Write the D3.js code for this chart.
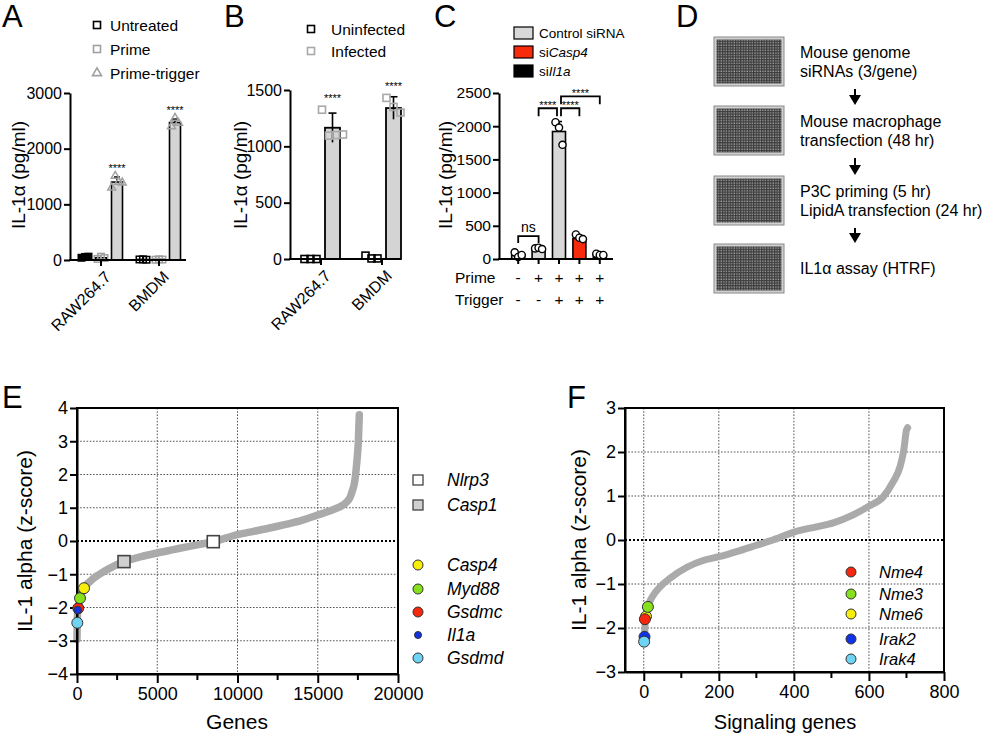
<!DOCTYPE html>
<html><head><meta charset="utf-8">
<script src="https://cdn.jsdelivr.net/npm/d3@7"></script>
<style>body{margin:0;background:#fff} svg{display:block} text{font-family:"Liberation Sans",Arial,sans-serif}</style>
</head><body><svg id="c" width="990" height="738"></svg>
<script>
// ---------------- DATA ----------------
const aGroups = ["RAW264.7", "BMDM"];
const aSeries = ["Untreated", "Prime", "Prime-trigger"];
const aMeans = [[50, 40, 1400], [10, 10, 2470]];
const aSD = [[10, 20, 90], [5, 5, 60]];
const aPoints = [[[40, 55, 60], [20, 60, 35], [1300, 1510, 1400, 1390]], [[10, 12, 5], [5, 12, 8], [2400, 2550, 2460]]];
const aTicks = [0, 1000, 2000, 3000];

const bGroups = ["RAW264.7", "BMDM"];
const bSeries = ["Uninfected", "Infected"];
const bMeans = [[2, 1165], [15, 1340]];
const bSD = [[2, 130], [15, 100]];
const bPoints = [[[0, 0, 0], [1325, 1095, 1100, 1105]], [[30, 5, 5], [1430, 1350, 1300]]];
const bTicks = [0, 500, 1000, 1500];

const cConditions = ["c1", "c2", "c3", "c4", "c5"];
const cSeries = ["Control siRNA", "siCasp4", "siIl1a"];
const cSeriesOf = [0, 0, 0, 1, 2];
const cMeans = [60, 155, 1920, 310, 60];
const cSD = [35, 10, 150, 30, 15];
const cPoints = [[100, 30, 60], [160, 170, 150], [2060, 1980, 1720], [370, 320, 300], [80, 60, 60]];
const cPrime = ["-", "+", "+", "+", "+"];
const cTrigger = ["-", "-", "+", "+", "+"];
const cTicks = [0, 500, 1000, 1500, 2000, 2500];
const cBrackets = [
  {from: 0, to: 1, level: 346, label: "ns"},
  {from: 1, to: 2, level: 2270, label: "****"},
  {from: 2, to: 3, level: 2270, label: "****"},
  {from: 2, to: 4, level: 2450, label: "****"}
];

const dSteps = [["Mouse genome", "siRNAs (3/gene)"], ["Mouse macrophage", "transfection (48 hr)"], ["P3C priming (5 hr)", "LipidA transfection (24 hr)"], ["IL1α assay (HTRF)"]];

const eCurve = [[0,-2.95],[10,-2.6],[20,-2.4],[40,-2.12],[80,-2.0],[190,-1.72],[440,-1.42],[800,-1.22],[1400,-1.0],[2000,-0.83],[2930,-0.62],[4000,-0.47],[5000,-0.36],[6000,-0.26],[7000,-0.16],[8500,-0.02],[10000,0.19],[11000,0.29],[12000,0.39],[13000,0.5],[14000,0.62],[15000,0.78],[16000,0.95],[16500,1.06],[16800,1.17],[17000,1.3],[17150,1.5],[17300,1.78],[17420,2.3],[17530,3.0],[17590,3.8]];
const eXTicks = [0, 5000, 10000, 15000, 20000];
const eXMinor = [2500, 7500, 12500, 17500];
const eYTicks = [-4, -3, -2, -1, 0, 1, 2, 3, 4];
const eHighlights = [
  {name: "Nlrp3", x: 8490, z: -0.02, shape: "square", fill: "#ffffff"},
  {name: "Casp1", x: 2930, z: -0.62, shape: "square", fill: "#d0d0d0"},
  {name: "Casp4", x: 436, z: -1.42, shape: "circle", fill: "#f7ef0a", r: 5.5},
  {name: "Myd88", x: 187, z: -1.72, shape: "circle", fill: "#86e01b", r: 5.5},
  {name: "Gsdmc", x: 80, z: -2.02, shape: "circle", fill: "#f4270f", r: 5.5},
  {name: "Il1a", x: 40, z: -2.08, shape: "circle", fill: "#1232e6", r: 3.8},
  {name: "Gsdmd", x: 20, z: -2.46, shape: "circle", fill: "#6fd4f4", r: 5.5}
];

const fCurve = [[0,-2.32],[2,-2.2],[4,-1.85],[7,-1.72],[10,-1.55],[15,-1.42],[25,-1.26],[44,-1.06],[70,-0.87],[115,-0.62],[160,-0.46],[200,-0.38],[256,-0.24],[300,-0.12],[344,0],[400,0.18],[460,0.3],[505,0.39],[558,0.57],[600,0.77],[638,0.98],[665,1.33],[683,1.67],[693,2.05],[700,2.5],[703,2.55]];
const fXTicks = [0, 200, 400, 600, 800];
const fXMinor = [100, 300, 500, 700];
const fYTicks = [-3, -2, -1, 0, 1, 2, 3];
const fHighlights = [
  {name: "Nme6", x: 6, z: -1.74, fill: "#f7ef0a"},
  {name: "Nme3", x: 11, z: -1.52, fill: "#86e01b"},
  {name: "Nme4", x: 3, z: -1.80, fill: "#f4270f"},
  {name: "Irak2", x: 2, z: -2.2, fill: "#1232e6"},
  {name: "Irak4", x: 1, z: -2.31, fill: "#6fd4f4"}
];
const fLegendOrder = ["Nme4", "Nme3", "Nme6", "Irak2", "Irak4"];

// ---------------- HELPERS ----------------
const svg = d3.select("#c");
const FONT = '"Liberation Sans", Arial, sans-serif';

function letter(t, x, y) {
  svg.append("text").attr("x", x).attr("y", y).attr("font-size", 31).text(t);
}
function yAxis(scale, x, ticks, fs, size = 6) {
  const g = svg.append("g").attr("transform", `translate(${x},0)`)
    .call(d3.axisLeft(scale).tickValues(ticks).tickSize(size).tickSizeOuter(0).tickPadding(2).tickFormat(d3.format("d")));
  g.attr("font-family", FONT).attr("font-size", fs);
  g.selectAll("path,line").attr("stroke", "#000").attr("stroke-width", 2);
  g.selectAll("text").attr("fill", "#000");
  return g;
}
function ylabel(t, x, y, fs) {
  svg.append("text").attr("transform", `translate(${x},${y}) rotate(-90)`).attr("text-anchor", "middle")
    .attr("dominant-baseline", "central").attr("font-size", fs).text(t);
}
function marker(g, shape, x, y, s, stroke, fill, sw = 1.6) {
  if (shape === "square") {
    g.append("rect").attr("x", x - s / 2).attr("y", y - s / 2).attr("width", s).attr("height", s)
      .attr("fill", fill).attr("stroke", stroke).attr("stroke-width", sw);
  } else if (shape === "triangle") {
    g.append("path").attr("d", d3.symbol(d3.symbolTriangle, s * s * 0.55)()).attr("transform", `translate(${x},${y})`)
      .attr("fill", fill).attr("stroke", stroke).attr("stroke-width", sw);
  } else {
    g.append("circle").attr("cx", x).attr("cy", y).attr("r", s).attr("fill", fill).attr("stroke", stroke).attr("stroke-width", sw);
  }
}
function errbar(g, x, y1, y2, cap, sw = 1.6) {
  g.append("line").attr("x1", x).attr("x2", x).attr("y1", y1).attr("y2", y2).attr("stroke", "#000").attr("stroke-width", sw);
  g.append("line").attr("x1", x - cap).attr("x2", x + cap).attr("y1", y1).attr("y2", y1).attr("stroke", "#000").attr("stroke-width", sw);
}
function stars(x, y) {
  svg.append("text").attr("x", x).attr("y", y).attr("text-anchor", "middle").attr("font-size", 11).text("****");
}

// ---------------- PANEL A ----------------
letter("A", 2, 27);
{
  const y = d3.scaleLinear().domain([0, 3000]).range([260, 93]);
  const x = d3.scaleBand().domain(aGroups).range([72, 188]);
  const xs = d3.scaleBand().domain(aSeries).range([-24, 24]);
  const shapes = ["square", "square", "triangle"];
  const strokes = ["#000", "#a0a0a0", "#a0a0a0"];
  const g = svg.append("g");
  aGroups.forEach((grp, gi) => {
    aSeries.forEach((s, si) => {
      const cx = x(grp) + x.bandwidth() / 2 + xs(s) + xs.bandwidth() / 2;
      const w = 11;
      g.append("rect").attr("x", cx - w / 2).attr("y", y(aMeans[gi][si])).attr("width", w)
        .attr("height", y(0) - y(aMeans[gi][si]))
        .attr("fill", si === 2 ? "#d4d4d4" : (si === 0 && gi === 0 ? "#000" : "#fff")).attr("stroke", "#000").attr("stroke-width", 1.6);
      if (si === 2) errbar(g, cx, y(aMeans[gi][si] + aSD[gi][si]), y(aMeans[gi][si]), 3);
      const pts = aPoints[gi][si];
      pts.forEach((v, k) => {
        const dx = (k - (pts.length - 1) / 2) * 3.5;
        marker(g, shapes[si], cx + dx, y(v), si === 2 ? 7 : 6.5, strokes[si], si === 0 && gi === 0 ? "#000" : "none", 1.5);
      });
      if (si === 2) stars(cx, y(d3.max(pts)) - 4);
    });
  });
  yAxis(y, 70, aTicks, 16);
  svg.append("line").attr("x1", 69).attr("x2", 186).attr("y1", 260).attr("y2", 260).attr("stroke", "#000").attr("stroke-width", 2);
  aGroups.forEach(grp => {
    const cx = x(grp) + x.bandwidth() / 2;
    svg.append("line").attr("x1", cx).attr("x2", cx).attr("y1", 260).attr("y2", 266).attr("stroke", "#000").attr("stroke-width", 2);
    svg.append("text").attr("transform", `translate(${cx + 3},${270}) rotate(-45)`).attr("text-anchor", "end")
      .attr("dominant-baseline", "hanging").attr("font-size", 16).text(grp);
  });
  ylabel("IL-1α (pg/ml)", 18, 175, 19);
  aSeries.forEach((s, i) => {
    const ly = 25 + i * 24;
    marker(svg, shapes[i], 97, ly, i === 2 ? 8 : 7, strokes[i], "none", 1.6);
    svg.append("text").attr("x", 110).attr("y", ly).attr("dominant-baseline", "central").attr("font-size", 15.5).text(s);
  });
}

// ---------------- PANEL B ----------------
letter("B", 224, 27);
{
  const y = d3.scaleLinear().domain([0, 1500]).range([259, 90]);
  const x = d3.scaleBand().domain(bGroups).range([290.5, 412.5]);
  const xs = d3.scaleBand().domain(bSeries).range([-23, 23]);
  const g = svg.append("g");
  bGroups.forEach((grp, gi) => {
    bSeries.forEach((s, si) => {
      const cx = x(grp) + x.bandwidth() / 2 + xs(s) + xs.bandwidth() / 2 + (si === 0 ? 1 : 0);
      const w = 15;
      if (si === 1) {
        g.append("rect").attr("x", cx - w / 2).attr("y", y(bMeans[gi][si])).attr("width", w)
          .attr("height", y(0) - y(bMeans[gi][si])).attr("fill", "#d4d4d4").attr("stroke", "#000").attr("stroke-width", 1.8);
        errbar(g, cx, y(bMeans[gi][si] + bSD[gi][si]), y(bMeans[gi][si] - bSD[gi][si]), 4);
      }
      const pts = bPoints[gi][si];
      pts.forEach((v, k) => {
        const dx = (k - (pts.length - 1) / 2) * (si === 0 ? 6 : 7);
        marker(g, "square", cx + dx, y(v), 7, si === 0 ? "#000" : "#a8a8a8", "none", 1.6);
      });
      if (si === 1) stars(cx, y(d3.max(pts)) - 8);
    });
  });
  yAxis(y, 290, bTicks, 16);
  svg.append("line").attr("x1", 289).attr("x2", 401).attr("y1", 259).attr("y2", 259).attr("stroke", "#000").attr("stroke-width", 2);
  bGroups.forEach(grp => {
    const cx = x(grp) + x.bandwidth() / 2;
    svg.append("line").attr("x1", cx).attr("x2", cx).attr("y1", 259).attr("y2", 265).attr("stroke", "#000").attr("stroke-width", 2);
    svg.append("text").attr("transform", `translate(${cx + 3},${269}) rotate(-45)`).attr("text-anchor", "end")
      .attr("dominant-baseline", "hanging").attr("font-size", 16).text(grp);
  });
  ylabel("IL-1α (pg/ml)", 240, 175, 19);
  bSeries.forEach((s, i) => {
    const ly = 29 + i * 22;
    marker(svg, "square", 311, ly, 7, i === 0 ? "#000" : "#a8a8a8", "none", 1.6);
    svg.append("text").attr("x", 331).attr("y", ly).attr("dominant-baseline", "central").attr("font-size", 15.5).text(s);
  });
}

// ---------------- PANEL C ----------------
letter("C", 434, 27);
{
  const y = d3.scaleLinear().domain([0, 2500]).range([259, 93]);
  const x = d3.scaleBand().domain(cConditions).range([508, 610]);
  const cx = i => x(cConditions[i]) + x.bandwidth() / 2;
  const colors = ["#d8d8d8", "#f82a0c", "#000"];
  const g = svg.append("g");
  cConditions.forEach((c, i) => {
    const w = 13;
    const col = colors[cSeriesOf[i]];
    g.append("rect").attr("x", cx(i) - w / 2).attr("y", y(cMeans[i])).attr("width", w).attr("height", y(0) - y(cMeans[i]))
      .attr("fill", col).attr("stroke", "#000").attr("stroke-width", 1.6);
    errbar(g, cx(i), y(cMeans[i] + cSD[i]), y(cMeans[i]), 3);
    const pts = cPoints[i];
    pts.forEach((v, k) => {
      const dx = (k - 1) * 3.5;
      marker(g, "circle", cx(i) + dx, y(v), 3.6, "#000", "#fff", 1.4);
    });
  });
  yAxis(y, 499, cTicks, 15.5);
  svg.append("line").attr("x1", 498).attr("x2", 613).attr("y1", 259).attr("y2", 259).attr("stroke", "#000").attr("stroke-width", 2);
  cConditions.forEach((c, i) => {
    svg.append("line").attr("x1", cx(i)).attr("x2", cx(i)).attr("y1", 259).attr("y2", 264).attr("stroke", "#000").attr("stroke-width", 2);
    svg.append("text").attr("x", cx(i)).attr("y", 277).attr("text-anchor", "middle").attr("dominant-baseline", "central").attr("font-size", 15.5).text(cPrime[i]);
    svg.append("text").attr("x", cx(i)).attr("y", 299).attr("text-anchor", "middle").attr("dominant-baseline", "central").attr("font-size", 15.5).text(cTrigger[i]);
  });
  svg.append("text").attr("x", 455).attr("y", 277).attr("dominant-baseline", "central").attr("font-size", 15.5).text("Prime");
  svg.append("text").attr("x", 455).attr("y", 299).attr("dominant-baseline", "central").attr("font-size", 15.5).text("Trigger");
  ylabel("IL-1α (pg/ml)", 445, 175, 19);
  cBrackets.forEach(b => {
    const x1 = cx(b.from) + (b.from === 2 ? 2 : 0), x2 = cx(b.to) - (b.to === 2 ? 2 : 0);
    const yt = y(b.level), yb = yt + (b.label === "ns" ? 7 : 8);
    svg.append("path").attr("d", `M${x1},${yb}V${yt}H${x2}V${yb}`).attr("fill", "none").attr("stroke", "#000").attr("stroke-width", 1.8);
    if (b.label === "ns") {
      svg.append("text").attr("x", (x1 + x2) / 2).attr("y", yt - 4).attr("text-anchor", "middle").attr("font-size", 14).text("ns");
    } else {
      stars((x1 + x2) / 2, yt + 1);
    }
  });
  cSeries.forEach((s, i) => {
    const ly = 33 + i * 19;
    svg.append("rect").attr("x", 514).attr("y", ly - 6).attr("width", 19).attr("height", 12).attr("fill", colors[i]).attr("stroke", "#000").attr("stroke-width", 1.2);
    const t = svg.append("text").attr("x", 539).attr("y", ly).attr("dominant-baseline", "central").attr("font-size", 13.5);
    if (i === 0) t.text(s);
    else { t.append("tspan").text("si"); t.append("tspan").attr("font-style", "italic").text(s.slice(2)); }
  });
}

// ---------------- PANEL D ----------------
letter("D", 676, 27);
{
  const defs = svg.append("defs");
  const pat = defs.append("pattern").attr("id", "wells").attr("patternUnits", "userSpaceOnUse").attr("width", 2.6).attr("height", 2.6);
  pat.append("rect").attr("width", 2.6).attr("height", 2.6).attr("fill", "#3c3c3c");
  pat.append("rect").attr("x", 0.4).attr("y", 0.4).attr("width", 1.3).attr("height", 1.3).attr("fill", "#a8a8a8");
  const ys = [37, 106, 176, 244];
  dSteps.forEach((lines, i) => {
    svg.append("rect").attr("x", 714).attr("y", ys[i]).attr("width", 70).attr("height", 49).attr("fill", "#d0d0d0").attr("stroke", "#8a8a8a").attr("stroke-width", 1);
    svg.append("rect").attr("x", 716.5).attr("y", ys[i] + 2.5).attr("width", 65).attr("height", 44).attr("fill", "url(#wells)");
    const cy = ys[i] + 24.5;
    lines.forEach((l, k) => {
      const yy = lines.length === 1 ? cy : cy - 9.5 + k * 19.5;
      svg.append("text").attr("x", 800).attr("y", yy).attr("dominant-baseline", "central").attr("font-size", 16).text(l);
    });
    if (i < 3) {
      const y1 = ys[i] + 52, y2 = ys[i + 1] - 1;
      svg.append("line").attr("x1", 855).attr("x2", 855).attr("y1", y1).attr("y2", y2 - 8).attr("stroke", "#000").attr("stroke-width", 2);
      svg.append("path").attr("d", `M849,${y2 - 10}L861,${y2 - 10}L855,${y2}Z`).attr("fill", "#000");
    }
  });
}

// ---------------- PANEL E ----------------
letter("E", 2, 408);
{
  const x = d3.scaleLinear().domain([0, 20000]).range([77, 398]);
  const y = d3.scaleLinear().domain([-4, 4]).range([674, 408]);
  const g = svg.append("g");
  eXTicks.filter(v => v > 0 && v < 20000).forEach(v => g.append("line").attr("x1", x(v)).attr("x2", x(v)).attr("y1", 408).attr("y2", 674).attr("stroke", "#555").attr("stroke-width", 1).attr("stroke-dasharray", "1.6,1.6"));
  eYTicks.filter(v => v !== 0 && Math.abs(v) < 4).forEach(v => g.append("line").attr("x1", 77).attr("x2", 398).attr("y1", y(v)).attr("y2", y(v)).attr("stroke", "#555").attr("stroke-width", 1).attr("stroke-dasharray", "1.6,1.6"));
  g.append("line").attr("x1", 77).attr("x2", 398).attr("y1", y(0)).attr("y2", y(0)).attr("stroke", "#000").attr("stroke-width", 2).attr("stroke-dasharray", "2,2");
  const line = d3.line().x(d => x(d[0])).y(d => y(d[1])).curve(d3.curveMonotoneX);
  g.append("path").attr("d", line(eCurve)).attr("fill", "none").attr("stroke", "#aaaaaa").attr("stroke-width", 7.5).attr("stroke-linecap", "round");
  svg.append("rect").attr("x", 77).attr("y", 408).attr("width", 321).attr("height", 266).attr("fill", "none").attr("stroke", "#000").attr("stroke-width", 2);
  yAxis(y, 77, eYTicks, 18, 7);
  const xa = svg.append("g").attr("transform", "translate(0,674)").call(d3.axisBottom(x).tickValues(eXTicks).tickSize(9).tickSizeOuter(0).tickPadding(4).tickFormat(d3.format("d")));
  xa.attr("font-family", FONT).attr("font-size", 18);
  xa.selectAll("path,line").attr("stroke", "#000").attr("stroke-width", 2);
  xa.selectAll("text").attr("fill", "#000");
  eXMinor.forEach(v => svg.append("line").attr("x1", x(v)).attr("x2", x(v)).attr("y1", 674).attr("y2", 680).attr("stroke", "#000").attr("stroke-width", 2));
  ylabel("IL-1 alpha (z-score)", 24, 541, 21);
  svg.append("text").attr("x", 237).attr("y", 729).attr("text-anchor", "middle").attr("font-size", 21).text("Genes");
  const drawOrder = ["Nlrp3", "Casp1", "Gsdmd", "Gsdmc", "Il1a", "Myd88", "Casp4"];
  drawOrder.forEach(n => {
    const h = eHighlights.find(d => d.name === n);
    if (h.shape === "square") marker(svg, "square", x(h.x), y(h.z), 12, "#444", h.fill, 1.6);
    else marker(svg, "circle", x(h.x), y(h.z), h.r, "#333", h.fill, 1);
  });
  const legY = [480, 505, 565, 589, 612, 635, 658];
  eHighlights.forEach((h, i) => {
    if (h.shape === "square") marker(svg, "square", 418, legY[i], 10, "#444", h.fill, 1.3);
    else marker(svg, "circle", 418, legY[i], h.r === 3.8 ? 3.5 : 5, "#333", h.fill, 1);
    svg.append("text").attr("x", 447).attr("y", legY[i]).attr("dominant-baseline", "central").attr("font-size", 17.5).attr("font-style", "italic").text(h.name);
  });
}

// ---------------- PANEL F ----------------
letter("F", 567, 408);
{
  const x = d3.scaleLinear().domain([-50, 800]).range([625, 944]);
  const y = d3.scaleLinear().domain([-3, 3]).range([672, 408]);
  const g = svg.append("g");
  fXTicks.filter(v => v < 800).forEach(v => g.append("line").attr("x1", x(v)).attr("x2", x(v)).attr("y1", 408).attr("y2", 672).attr("stroke", "#555").attr("stroke-width", 1).attr("stroke-dasharray", "1.6,1.6"));
  fYTicks.filter(v => v !== 0 && Math.abs(v) < 3).forEach(v => g.append("line").attr("x1", 625).attr("x2", 944).attr("y1", y(v)).attr("y2", y(v)).attr("stroke", "#555").attr("stroke-width", 1).attr("stroke-dasharray", "1.6,1.6"));
  g.append("line").attr("x1", 625).attr("x2", 944).attr("y1", y(0)).attr("y2", y(0)).attr("stroke", "#000").attr("stroke-width", 2).attr("stroke-dasharray", "2,2");
  const line = d3.line().x(d => x(d[0])).y(d => y(d[1])).curve(d3.curveMonotoneX);
  g.append("path").attr("d", line(fCurve)).attr("fill", "none").attr("stroke", "#aaaaaa").attr("stroke-width", 7).attr("stroke-linecap", "round");
  svg.append("rect").attr("x", 625).attr("y", 408).attr("width", 319).attr("height", 264).attr("fill", "none").attr("stroke", "#000").attr("stroke-width", 2);
  yAxis(y, 625, fYTicks, 18, 7);
  const xa = svg.append("g").attr("transform", "translate(0,672)").call(d3.axisBottom(x).tickValues(fXTicks).tickSize(9).tickSizeOuter(0).tickPadding(4).tickFormat(d3.format("d")));
  xa.attr("font-family", FONT).attr("font-size", 18);
  xa.selectAll("path,line").attr("stroke", "#000").attr("stroke-width", 2);
  xa.selectAll("text").attr("fill", "#000");
  fXMinor.forEach(v => svg.append("line").attr("x1", x(v)).attr("x2", x(v)).attr("y1", 672).attr("y2", 678).attr("stroke", "#000").attr("stroke-width", 2));
  ylabel("IL-1 alpha (z-score)", 578, 540, 21);
  svg.append("text").attr("x", 785).attr("y", 729).attr("text-anchor", "middle").attr("font-size", 20).text("Signaling genes");
  fHighlights.forEach(h => marker(svg, "circle", x(h.x), y(h.z), 5.5, "#333", h.fill, 1));
  const legY = [572, 594, 614, 639, 659];
  fLegendOrder.forEach((n, i) => {
    const h = fHighlights.find(d => d.name === n);
    marker(svg, "circle", 851, legY[i], 5, "#333", h.fill, 1);
    svg.append("text").attr("x", 879).attr("y", legY[i]).attr("dominant-baseline", "central").attr("font-size", 16.5).attr("font-style", "italic").text(n);
  });
}
</script></body></html>
